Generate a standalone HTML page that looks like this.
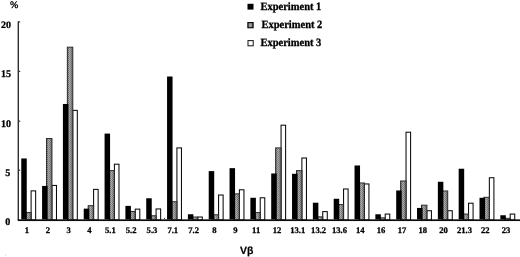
<!DOCTYPE html>
<html><head><meta charset="utf-8"><title>Vβ usage</title>
<style>
html,body{margin:0;padding:0;background:#fff;}
body{width:520px;height:257px;overflow:hidden;position:relative;}
svg text{font-family:"Liberation Serif","Times New Roman",serif;fill:#000;text-rendering:geometricPrecision;}
.yl{font-size:10.1px;font-weight:bold;stroke:#000;stroke-width:0.25px;}
.xl{font-size:8.6px;font-weight:bold;stroke:#000;stroke-width:0.28px;}
.lg{font-size:10.5px;font-weight:bold;stroke:#000;stroke-width:0.3px;}
.pc{font-size:10px;stroke:#000;stroke-width:0.35px;}
svg text.vb{font-family:"Liberation Sans","DejaVu Sans",sans-serif;font-size:10.45px;font-weight:bold;stroke:#000;stroke-width:0.2px;}
</style></head><body>
<svg width="520" height="257" viewBox="0 0 520 257" style="position:absolute;left:0;top:0">
<defs><linearGradient id="gg" x1="0" y1="0" x2="1" y2="0"><stop offset="0" stop-color="#666"/><stop offset="0.42" stop-color="#acacac"/><stop offset="1" stop-color="#626262"/></linearGradient><pattern id="ht" width="2" height="2" patternUnits="userSpaceOnUse"><rect x="0" y="0" width="1" height="1" fill="#000" fill-opacity="0.2"/><rect x="1" y="1" width="1" height="1" fill="#000" fill-opacity="0.2"/><rect x="1" y="0" width="1" height="1" fill="#fff" fill-opacity="0.12"/><rect x="0" y="1" width="1" height="1" fill="#fff" fill-opacity="0.12"/></pattern></defs>
<rect x="31.10" y="190.87" width="4.55" height="29.13" fill="#fff" stroke="#0a0a0a" stroke-width="1.05"/>
<rect x="25.70" y="212.59" width="5.42" height="7.41" fill="url(#gg)" stroke="#2a2a2a" stroke-width="1.0"/>
<rect x="26.20" y="213.09" width="4.42" height="6.41" fill="url(#ht)"/>
<rect x="21.25" y="158.47" width="5.5" height="61.03" fill="#000"/>
<rect x="51.93" y="185.44" width="4.55" height="34.56" fill="#fff" stroke="#0a0a0a" stroke-width="1.05"/>
<rect x="46.53" y="138.53" width="5.42" height="81.47" fill="url(#gg)" stroke="#2a2a2a" stroke-width="1.0"/>
<rect x="47.03" y="139.03" width="4.42" height="80.47" fill="url(#ht)"/>
<rect x="42.08" y="185.93" width="5.5" height="33.57" fill="#000"/>
<rect x="72.76" y="110.39" width="4.55" height="109.61" fill="#fff" stroke="#0a0a0a" stroke-width="1.05"/>
<rect x="67.36" y="47.19" width="5.42" height="172.81" fill="url(#gg)" stroke="#2a2a2a" stroke-width="1.0"/>
<rect x="67.86" y="47.69" width="4.42" height="171.81" fill="url(#ht)"/>
<rect x="62.91" y="103.96" width="5.5" height="115.54" fill="#000"/>
<rect x="93.59" y="189.39" width="4.55" height="30.61" fill="#fff" stroke="#0a0a0a" stroke-width="1.05"/>
<rect x="88.19" y="205.68" width="5.42" height="14.32" fill="url(#gg)" stroke="#2a2a2a" stroke-width="1.0"/>
<rect x="88.69" y="206.18" width="4.42" height="13.32" fill="url(#ht)"/>
<rect x="83.74" y="208.64" width="5.5" height="10.86" fill="#000"/>
<rect x="114.42" y="164.21" width="4.55" height="55.79" fill="#fff" stroke="#0a0a0a" stroke-width="1.05"/>
<rect x="109.02" y="170.62" width="5.42" height="49.38" fill="url(#gg)" stroke="#2a2a2a" stroke-width="1.0"/>
<rect x="109.52" y="171.12" width="4.42" height="48.38" fill="url(#ht)"/>
<rect x="104.57" y="133.59" width="5.5" height="85.91" fill="#000"/>
<rect x="135.25" y="209.14" width="4.55" height="10.86" fill="#fff" stroke="#0a0a0a" stroke-width="1.05"/>
<rect x="129.85" y="211.51" width="5.42" height="8.49" fill="url(#gg)" stroke="#2a2a2a" stroke-width="1.0"/>
<rect x="130.35" y="212.01" width="4.42" height="7.49" fill="url(#ht)"/>
<rect x="125.40" y="205.87" width="5.5" height="13.63" fill="#000"/>
<rect x="156.08" y="208.94" width="4.55" height="11.06" fill="#fff" stroke="#0a0a0a" stroke-width="1.05"/>
<rect x="150.68" y="215.75" width="5.42" height="4.25" fill="url(#gg)" stroke="#2a2a2a" stroke-width="1.0"/>
<rect x="151.18" y="216.25" width="4.42" height="3.25" fill="url(#ht)"/>
<rect x="146.23" y="198.27" width="5.5" height="21.23" fill="#000"/>
<rect x="176.91" y="147.91" width="4.55" height="72.09" fill="#fff" stroke="#0a0a0a" stroke-width="1.05"/>
<rect x="171.51" y="201.73" width="5.42" height="18.27" fill="url(#gg)" stroke="#2a2a2a" stroke-width="1.0"/>
<rect x="172.01" y="202.23" width="4.42" height="17.27" fill="url(#ht)"/>
<rect x="167.06" y="76.51" width="5.5" height="142.99" fill="#000"/>
<rect x="197.74" y="217.04" width="4.55" height="2.96" fill="#fff" stroke="#0a0a0a" stroke-width="1.05"/>
<rect x="192.34" y="217.04" width="5.42" height="2.96" fill="url(#gg)" stroke="#2a2a2a" stroke-width="1.0"/>
<rect x="192.84" y="217.54" width="4.42" height="1.96" fill="url(#ht)"/>
<rect x="187.89" y="214.27" width="5.5" height="5.23" fill="#000"/>
<rect x="218.57" y="195.02" width="4.55" height="24.98" fill="#fff" stroke="#0a0a0a" stroke-width="1.05"/>
<rect x="213.17" y="214.77" width="5.42" height="5.23" fill="url(#gg)" stroke="#2a2a2a" stroke-width="1.0"/>
<rect x="213.67" y="215.27" width="4.42" height="4.23" fill="url(#ht)"/>
<rect x="208.72" y="171.11" width="5.5" height="48.39" fill="#000"/>
<rect x="239.40" y="189.78" width="4.55" height="30.22" fill="#fff" stroke="#0a0a0a" stroke-width="1.05"/>
<rect x="234.00" y="193.83" width="5.42" height="26.17" fill="url(#gg)" stroke="#2a2a2a" stroke-width="1.0"/>
<rect x="234.50" y="194.33" width="4.42" height="25.17" fill="url(#ht)"/>
<rect x="229.55" y="168.15" width="5.5" height="51.35" fill="#000"/>
<rect x="260.23" y="197.78" width="4.55" height="22.22" fill="#fff" stroke="#0a0a0a" stroke-width="1.05"/>
<rect x="254.83" y="212.59" width="5.42" height="7.41" fill="url(#gg)" stroke="#2a2a2a" stroke-width="1.0"/>
<rect x="255.33" y="213.09" width="4.42" height="6.41" fill="url(#ht)"/>
<rect x="250.38" y="197.78" width="5.5" height="21.72" fill="#000"/>
<rect x="281.06" y="125.20" width="4.55" height="94.80" fill="#fff" stroke="#0a0a0a" stroke-width="1.05"/>
<rect x="275.66" y="147.91" width="5.42" height="72.09" fill="url(#gg)" stroke="#2a2a2a" stroke-width="1.0"/>
<rect x="276.16" y="148.41" width="4.42" height="71.09" fill="url(#ht)"/>
<rect x="271.21" y="173.48" width="5.5" height="46.02" fill="#000"/>
<rect x="301.89" y="157.99" width="4.55" height="62.01" fill="#fff" stroke="#0a0a0a" stroke-width="1.05"/>
<rect x="296.49" y="170.62" width="5.42" height="49.38" fill="url(#gg)" stroke="#2a2a2a" stroke-width="1.0"/>
<rect x="296.99" y="171.12" width="4.42" height="48.38" fill="url(#ht)"/>
<rect x="292.04" y="173.78" width="5.5" height="45.72" fill="#000"/>
<rect x="322.72" y="211.61" width="4.55" height="8.39" fill="#fff" stroke="#0a0a0a" stroke-width="1.05"/>
<rect x="317.32" y="216.84" width="5.42" height="3.16" fill="url(#gg)" stroke="#2a2a2a" stroke-width="1.0"/>
<rect x="317.82" y="217.34" width="4.42" height="2.16" fill="url(#ht)"/>
<rect x="312.87" y="202.71" width="5.5" height="16.79" fill="#000"/>
<rect x="343.55" y="188.99" width="4.55" height="31.01" fill="#fff" stroke="#0a0a0a" stroke-width="1.05"/>
<rect x="338.15" y="204.59" width="5.42" height="15.41" fill="url(#gg)" stroke="#2a2a2a" stroke-width="1.0"/>
<rect x="338.65" y="205.09" width="4.42" height="14.41" fill="url(#ht)"/>
<rect x="333.70" y="198.76" width="5.5" height="20.74" fill="#000"/>
<rect x="364.38" y="183.96" width="4.55" height="36.04" fill="#fff" stroke="#0a0a0a" stroke-width="1.05"/>
<rect x="358.98" y="182.97" width="5.42" height="37.03" fill="url(#gg)" stroke="#2a2a2a" stroke-width="1.0"/>
<rect x="359.48" y="183.47" width="4.42" height="36.03" fill="url(#ht)"/>
<rect x="354.53" y="165.48" width="5.5" height="54.02" fill="#000"/>
<rect x="385.21" y="214.07" width="4.55" height="5.93" fill="#fff" stroke="#0a0a0a" stroke-width="1.05"/>
<rect x="379.81" y="217.83" width="5.42" height="2.17" fill="url(#gg)" stroke="#2a2a2a" stroke-width="1.0"/>
<rect x="380.31" y="218.33" width="4.42" height="1.17" fill="url(#ht)"/>
<rect x="375.36" y="214.27" width="5.5" height="5.23" fill="#000"/>
<rect x="406.04" y="132.21" width="4.55" height="87.79" fill="#fff" stroke="#0a0a0a" stroke-width="1.05"/>
<rect x="400.64" y="180.99" width="5.42" height="39.01" fill="url(#gg)" stroke="#2a2a2a" stroke-width="1.0"/>
<rect x="401.14" y="181.49" width="4.42" height="38.01" fill="url(#ht)"/>
<rect x="396.19" y="190.47" width="5.5" height="29.03" fill="#000"/>
<rect x="426.87" y="210.72" width="4.55" height="9.28" fill="#fff" stroke="#0a0a0a" stroke-width="1.05"/>
<rect x="421.47" y="205.19" width="5.42" height="14.81" fill="url(#gg)" stroke="#2a2a2a" stroke-width="1.0"/>
<rect x="421.97" y="205.69" width="4.42" height="13.81" fill="url(#ht)"/>
<rect x="417.02" y="207.95" width="5.5" height="11.55" fill="#000"/>
<rect x="447.70" y="210.72" width="4.55" height="9.28" fill="#fff" stroke="#0a0a0a" stroke-width="1.05"/>
<rect x="442.30" y="190.97" width="5.42" height="29.03" fill="url(#gg)" stroke="#2a2a2a" stroke-width="1.0"/>
<rect x="442.80" y="191.47" width="4.42" height="28.03" fill="url(#ht)"/>
<rect x="437.85" y="181.78" width="5.5" height="37.72" fill="#000"/>
<rect x="468.53" y="203.21" width="4.55" height="16.79" fill="#fff" stroke="#0a0a0a" stroke-width="1.05"/>
<rect x="463.13" y="214.07" width="5.42" height="5.93" fill="url(#gg)" stroke="#2a2a2a" stroke-width="1.0"/>
<rect x="463.63" y="214.57" width="4.42" height="4.93" fill="url(#ht)"/>
<rect x="458.68" y="168.74" width="5.5" height="50.76" fill="#000"/>
<rect x="489.36" y="177.74" width="4.55" height="42.26" fill="#fff" stroke="#0a0a0a" stroke-width="1.05"/>
<rect x="483.96" y="197.29" width="5.42" height="22.71" fill="url(#gg)" stroke="#2a2a2a" stroke-width="1.0"/>
<rect x="484.46" y="197.79" width="4.42" height="21.71" fill="url(#ht)"/>
<rect x="479.51" y="197.78" width="5.5" height="21.72" fill="#000"/>
<rect x="510.19" y="214.07" width="4.55" height="5.93" fill="#fff" stroke="#0a0a0a" stroke-width="1.05"/>
<rect x="504.79" y="218.32" width="5.42" height="1.68" fill="url(#gg)" stroke="#2a2a2a" stroke-width="1.0"/>
<rect x="505.29" y="218.82" width="4.42" height="0.68" fill="url(#ht)"/>
<rect x="500.34" y="215.25" width="5.5" height="4.25" fill="#000"/>
<rect x="17.6" y="21.4" width="1.4" height="199" fill="#2e2e2e"/>
<rect x="17.8" y="219.35" width="502.2" height="1.7" fill="#0c0c0c"/>
<rect x="18.2" y="169.60" width="2.0" height="1.2" fill="#333"/>
<rect x="18.2" y="120.60" width="2.0" height="1.2" fill="#333"/>
<rect x="18.2" y="70.80" width="2.0" height="1.2" fill="#333"/>
<rect x="18.2" y="21.30" width="2.0" height="1.2" fill="#333"/>
<text transform="translate(10.3,225.40) scale(1,1.01)" text-anchor="end" class="yl">0</text>
<text transform="translate(10.3,175.70) scale(1,1.01)" text-anchor="end" class="yl">5</text>
<text transform="translate(11.0,126.70) scale(1,1.01)" text-anchor="end" class="yl">10</text>
<text transform="translate(11.0,76.90) scale(1,1.01)" text-anchor="end" class="yl">15</text>
<text transform="translate(11.0,27.50) scale(1,0.97)" text-anchor="end" class="yl">20</text>
<text x="14.2" y="7.9" text-anchor="middle" class="pc">%</text>
<text x="27.00" y="232.8" text-anchor="middle" class="xl">1</text>
<text x="47.83" y="232.8" text-anchor="middle" class="xl">2</text>
<text x="68.66" y="232.8" text-anchor="middle" class="xl">3</text>
<text x="89.49" y="232.8" text-anchor="middle" class="xl">4</text>
<text x="110.32" y="232.8" text-anchor="middle" class="xl">5.1</text>
<text x="131.15" y="232.8" text-anchor="middle" class="xl">5.2</text>
<text x="151.98" y="232.8" text-anchor="middle" class="xl">5.3</text>
<text x="172.81" y="232.8" text-anchor="middle" class="xl">7.1</text>
<text x="193.64" y="232.8" text-anchor="middle" class="xl">7.2</text>
<text x="214.47" y="232.8" text-anchor="middle" class="xl">8</text>
<text x="235.30" y="232.8" text-anchor="middle" class="xl">9</text>
<text x="256.13" y="232.8" text-anchor="middle" class="xl">11</text>
<text x="276.96" y="232.8" text-anchor="middle" class="xl">12</text>
<text x="297.79" y="232.8" text-anchor="middle" class="xl">13.1</text>
<text x="318.62" y="232.8" text-anchor="middle" class="xl">13.2</text>
<text x="339.45" y="232.8" text-anchor="middle" class="xl">13.6</text>
<text x="360.28" y="232.8" text-anchor="middle" class="xl">14</text>
<text x="381.11" y="232.8" text-anchor="middle" class="xl">16</text>
<text x="401.94" y="232.8" text-anchor="middle" class="xl">17</text>
<text x="422.77" y="232.8" text-anchor="middle" class="xl">18</text>
<text x="443.60" y="232.8" text-anchor="middle" class="xl">20</text>
<text x="464.43" y="232.8" text-anchor="middle" class="xl">21.3</text>
<text x="485.26" y="232.8" text-anchor="middle" class="xl">22</text>
<text x="506.09" y="232.8" text-anchor="middle" class="xl">23</text>
<text transform="translate(246.6,253.6) scale(1.0,1.0)" text-anchor="middle" class="vb">Vβ</text>
<rect x="247.5" y="3.8" width="6" height="5.8" fill="#000"/>
<rect x="247.9" y="22.6" width="5.2" height="5.1" fill="url(#gg)" stroke="#0c0c0c" stroke-width="1.2"/>
<rect x="248" y="40.6" width="5.2" height="5.2" fill="#fff" stroke="#111" stroke-width="1"/>
<text transform="translate(260.4,10.1) scale(1,1.07)" class="lg">Experiment 1</text>
<text transform="translate(261.4,28.2) scale(1,1.07)" class="lg">Experiment 2</text>
<text transform="translate(260.4,46.3) scale(1,1.07)" class="lg">Experiment 3</text>
<circle cx="164.6" cy="218.3" r="0.6" fill="#333"/>
<circle cx="5.5" cy="255" r="0.5" fill="#bbb"/>
</svg>
</body></html>
